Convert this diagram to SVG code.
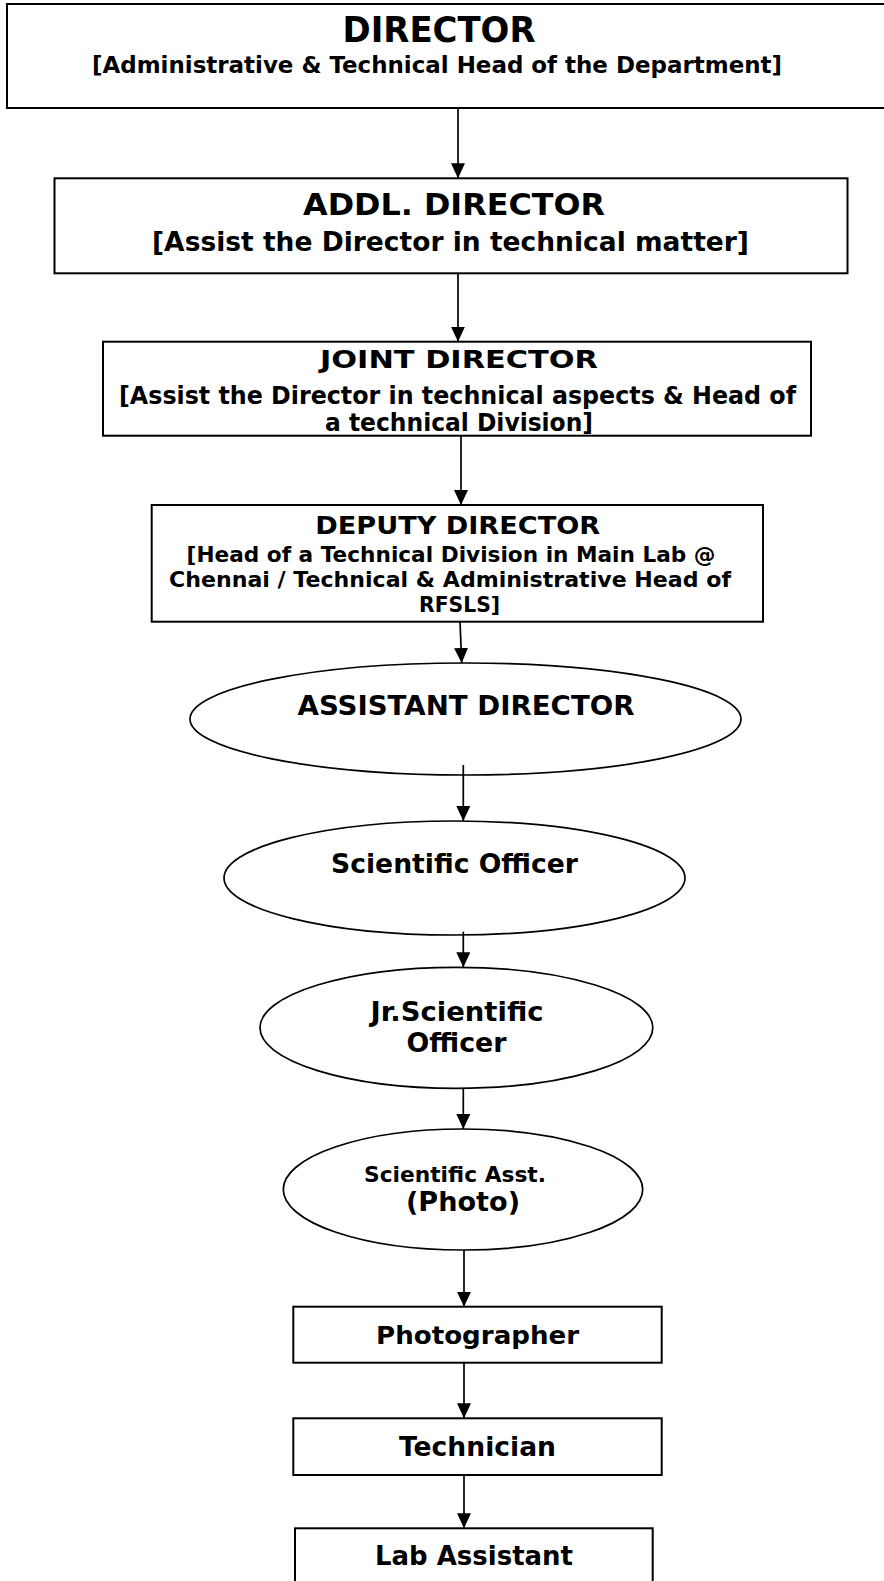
<svg xmlns="http://www.w3.org/2000/svg" width="884" height="1581" viewBox="0 0 884 1581">
<style>
.box{fill:#fff;stroke:#000;stroke-width:2}
.ell{fill:#fff;stroke:#000;stroke-width:1.7}
.t{font-family:"DejaVu Sans","Verdana",sans-serif;font-weight:bold;fill:#000;text-anchor:middle}
.conn line{stroke:#000;stroke-width:1.7;marker-end:url(#arrow)}
</style>
<defs>
<marker id="arrow" markerUnits="userSpaceOnUse" markerWidth="15" markerHeight="14" viewBox="0 0 15 14" refX="15" refY="7" orient="auto">
<path d="M0,0 L15,7 L0,14 z" fill="#000"/>
</marker>
</defs>
<rect width="884" height="1581" fill="#fff"/>
<g id="director">
<rect class="box" x="7" y="4" width="900" height="104"/>
<text class="t" x="439" y="42" font-size="36" textLength="193" lengthAdjust="spacingAndGlyphs">DIRECTOR</text>
<text class="t" x="437" y="73" font-size="23" textLength="690" lengthAdjust="spacingAndGlyphs">[Administrative &amp; Technical Head of the Department]</text>
</g>
<g id="addl-director">
<rect class="box" x="54.5" y="178.3" width="793" height="95"/>
<text class="t" x="454" y="215" font-size="30" textLength="302" lengthAdjust="spacingAndGlyphs">ADDL. DIRECTOR</text>
<text class="t" x="450.5" y="251" font-size="26.4" textLength="597" lengthAdjust="spacingAndGlyphs">[Assist the Director in technical matter]</text>
</g>
<g id="joint-director">
<rect class="box" x="103" y="341.7" width="708" height="94"/>
<text class="t" x="459" y="367.5" font-size="25" textLength="278" lengthAdjust="spacingAndGlyphs">JOINT DIRECTOR</text>
<text class="t" x="457.5" y="404" font-size="24" textLength="677" lengthAdjust="spacingAndGlyphs">[Assist the Director in technical aspects &amp; Head of</text>
<text class="t" x="459" y="431" font-size="24" textLength="268" lengthAdjust="spacingAndGlyphs">a technical Division]</text>
</g>
<g id="deputy-director">
<rect class="box" x="151.7" y="505" width="611.3" height="116.7"/>
<text class="t" x="457.7" y="533.5" font-size="25.5" textLength="285" lengthAdjust="spacingAndGlyphs">DEPUTY DIRECTOR</text>
<text class="t" x="451" y="562" font-size="21.5" textLength="529" lengthAdjust="spacingAndGlyphs">[Head of a Technical Division in Main Lab @</text>
<text class="t" x="450" y="587" font-size="21.5" textLength="562" lengthAdjust="spacingAndGlyphs">Chennai / Technical &amp; Administrative Head of</text>
<text class="t" x="459.6" y="612" font-size="21.5" textLength="81" lengthAdjust="spacingAndGlyphs">RFSLS]</text>
</g>
<g id="assistant-director">
<ellipse class="ell" cx="465.5" cy="719" rx="275.5" ry="56"/>
<text class="t" x="466" y="715" font-size="26" textLength="337" lengthAdjust="spacingAndGlyphs">ASSISTANT DIRECTOR</text>
</g>
<g id="scientific-officer">
<ellipse class="ell" cx="454.5" cy="878" rx="230.5" ry="57"/>
<text class="t" x="454.5" y="872.5" font-size="26" textLength="247" lengthAdjust="spacingAndGlyphs">Scientific Officer</text>
</g>
<g id="jr-scientific-officer">
<ellipse class="ell" cx="456.4" cy="1027.8" rx="196.4" ry="60.5"/>
<text class="t" x="457" y="1021" font-size="26.5" textLength="173" lengthAdjust="spacingAndGlyphs">Jr.Scientific</text>
<text class="t" x="456.5" y="1051.5" font-size="26" textLength="100" lengthAdjust="spacingAndGlyphs">Officer</text>
</g>
<g id="scientific-asst">
<ellipse class="ell" cx="463" cy="1189.5" rx="179.7" ry="60.5"/>
<text class="t" x="455" y="1182" font-size="21.7" textLength="182" lengthAdjust="spacingAndGlyphs">Scientific Asst.</text>
<text class="t" x="463" y="1211" font-size="26" textLength="114" lengthAdjust="spacingAndGlyphs">(Photo)</text>
</g>
<g id="photographer">
<rect class="box" x="293.3" y="1306.7" width="368.4" height="56"/>
<text class="t" x="477.6" y="1344" font-size="25.5" textLength="203" lengthAdjust="spacingAndGlyphs">Photographer</text>
</g>
<g id="technician">
<rect class="box" x="293.3" y="1418.3" width="368.4" height="56.7"/>
<text class="t" x="477.5" y="1456" font-size="26" textLength="157" lengthAdjust="spacingAndGlyphs">Technician</text>
</g>
<g id="lab-assistant">
<rect class="box" x="295" y="1528.3" width="357.7" height="70"/>
<text class="t" x="474" y="1565" font-size="26" textLength="198" lengthAdjust="spacingAndGlyphs">Lab Assistant</text>
</g>
<g id="connectors" class="conn">
<line x1="458" y1="108" x2="458" y2="178.3"/>
<line x1="458" y1="273.3" x2="458" y2="341.7"/>
<line x1="461" y1="435.7" x2="461" y2="505"/>
<line x1="460" y1="621.7" x2="461.7" y2="663"/>
<line x1="463.3" y1="765" x2="463.3" y2="821"/>
<line x1="463.3" y1="931.7" x2="463.3" y2="967.3"/>
<line x1="463.3" y1="1088.3" x2="463.3" y2="1129"/>
<line x1="464" y1="1250" x2="464" y2="1306.7"/>
<line x1="464" y1="1362.7" x2="464" y2="1418.3"/>
<line x1="464" y1="1475" x2="464" y2="1528.3"/>
</g>
</svg>
